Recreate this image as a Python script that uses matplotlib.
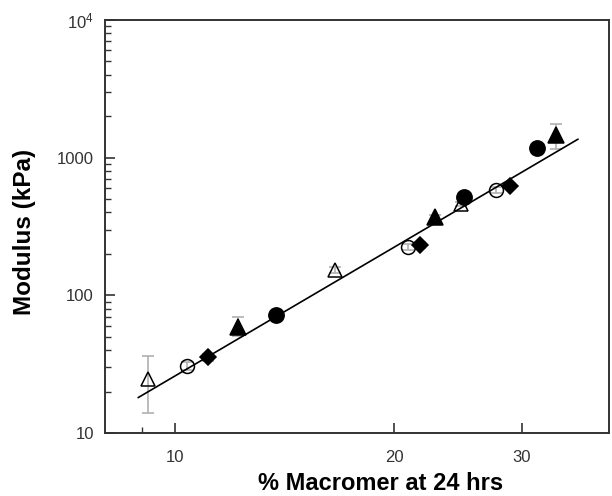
import matplotlib
matplotlib.use("Agg")
import matplotlib.pyplot as plt
from matplotlib.ticker import FixedLocator, NullFormatter, LogLocator

plt.rcParams['font.family'] = ['Liberation Sans', 'DejaVu Sans']
plt.rcParams['mathtext.default'] = 'regular'

# Data
open_tri_x = [9.19, 16.6, 24.76]
open_tri_y = [24.5, 153, 460]
open_tri_lo = [10.5, 8, 15]
open_tri_hi = [11.5, 8, 15]

open_circ_x = [10.4, 20.9, 27.6]
open_circ_y = [30.7, 225, 582]
open_circ_err = [2, 10, 25]

diamond_x = [11.1, 21.7, 28.9]
diamond_y = [35.5, 232, 622]
diamond_err = [2, 10, 25]

fill_tri_x = [12.2, 22.75, 33.4]
fill_tri_y = [59, 368, 1459]
fill_tri_lo = [8, 15, 309]
fill_tri_hi = [11, 15, 295]

fill_circ_x = [13.75, 25.0, 31.5]
fill_circ_y = [72, 515, 1167]
fill_circ_err = [3, 30, 40]

fit_x = [8.9, 35.8]
fit_y = [18.1, 1358]

x_major = [10, 20, 30]
x_minor = [9]
y_major = [10, 100, 1000, 10000]
y_labels = ['10', '100', '1000', r'$10^4$']

fig = plt.figure(figsize=(6.12, 4.96), dpi=100)
ax = fig.add_axes([0.1716, 0.127, 0.8234, 0.833])
ax.set_xscale('log')
ax.set_yscale('log')
ax.set_xlim(8.01, 39.5)
ax.set_ylim(10, 10000)

ecol = '#b0b0b0'
ekw = dict(fmt='none', ecolor=ecol, elinewidth=1.2, capsize=4, capthick=1.2, zorder=1)
ax.errorbar(open_tri_x, open_tri_y, yerr=[open_tri_lo, open_tri_hi], **ekw)
ax.errorbar(open_circ_x, open_circ_y, yerr=open_circ_err, **ekw)
ax.errorbar(diamond_x, diamond_y, yerr=diamond_err, **ekw)
ax.errorbar(fill_tri_x, fill_tri_y, yerr=[fill_tri_lo, fill_tri_hi], **ekw)
ax.errorbar(fill_circ_x, fill_circ_y, yerr=fill_circ_err, **ekw)

mkw = dict(linestyle='none', markeredgecolor='black', markeredgewidth=1.1, zorder=3)
ax.plot(open_tri_x, open_tri_y, marker='^', markersize=10.5, markerfacecolor='none', **mkw)
ax.plot(open_circ_x, open_circ_y, marker='o', markersize=10, markerfacecolor='none', **mkw)
ax.plot(diamond_x, diamond_y, marker='D', markersize=8, markerfacecolor='black', **mkw)
ax.plot(fill_tri_x, fill_tri_y, marker='^', markersize=11.5, markerfacecolor='black', **mkw)
ax.plot(fill_circ_x, fill_circ_y, marker='o', markersize=11, markerfacecolor='black', **mkw)

ax.plot(fit_x, fit_y, color='black', linewidth=1.2, zorder=4)

ax.xaxis.set_major_locator(FixedLocator(x_major))
ax.xaxis.set_minor_locator(FixedLocator(x_minor))
ax.set_xticklabels([str(v) for v in x_major])
ax.xaxis.set_minor_formatter(NullFormatter())

ax.yaxis.set_major_locator(FixedLocator(y_major))
ax.set_yticklabels(y_labels)
ax.yaxis.set_minor_locator(LogLocator(base=10, subs=range(2, 10)))
ax.yaxis.set_minor_formatter(NullFormatter())

for s in ax.spines.values():
    s.set_color('#333333')
    s.set_linewidth(1.4)

ax.tick_params(axis='both', which='major', direction='in', length=7, width=1.2,
               colors='#333333', labelsize=12, labelcolor='#333333')
ax.tick_params(axis='both', which='minor', direction='in', length=4.5, width=1.0,
               colors='#333333')
ax.tick_params(axis='x', which='major', pad=12)
ax.tick_params(axis='y', which='major', pad=8)

ax.set_xlabel('% Macromer at 24 hrs', fontsize=17, fontweight='bold')
ax.set_ylabel('Modulus (kPa)', fontsize=17.5, fontweight='bold')
ax.xaxis.set_label_coords(0.546, -0.094)
ax.yaxis.set_label_coords(-0.137, 0.487)

fig.savefig('out.png', dpi=100)
